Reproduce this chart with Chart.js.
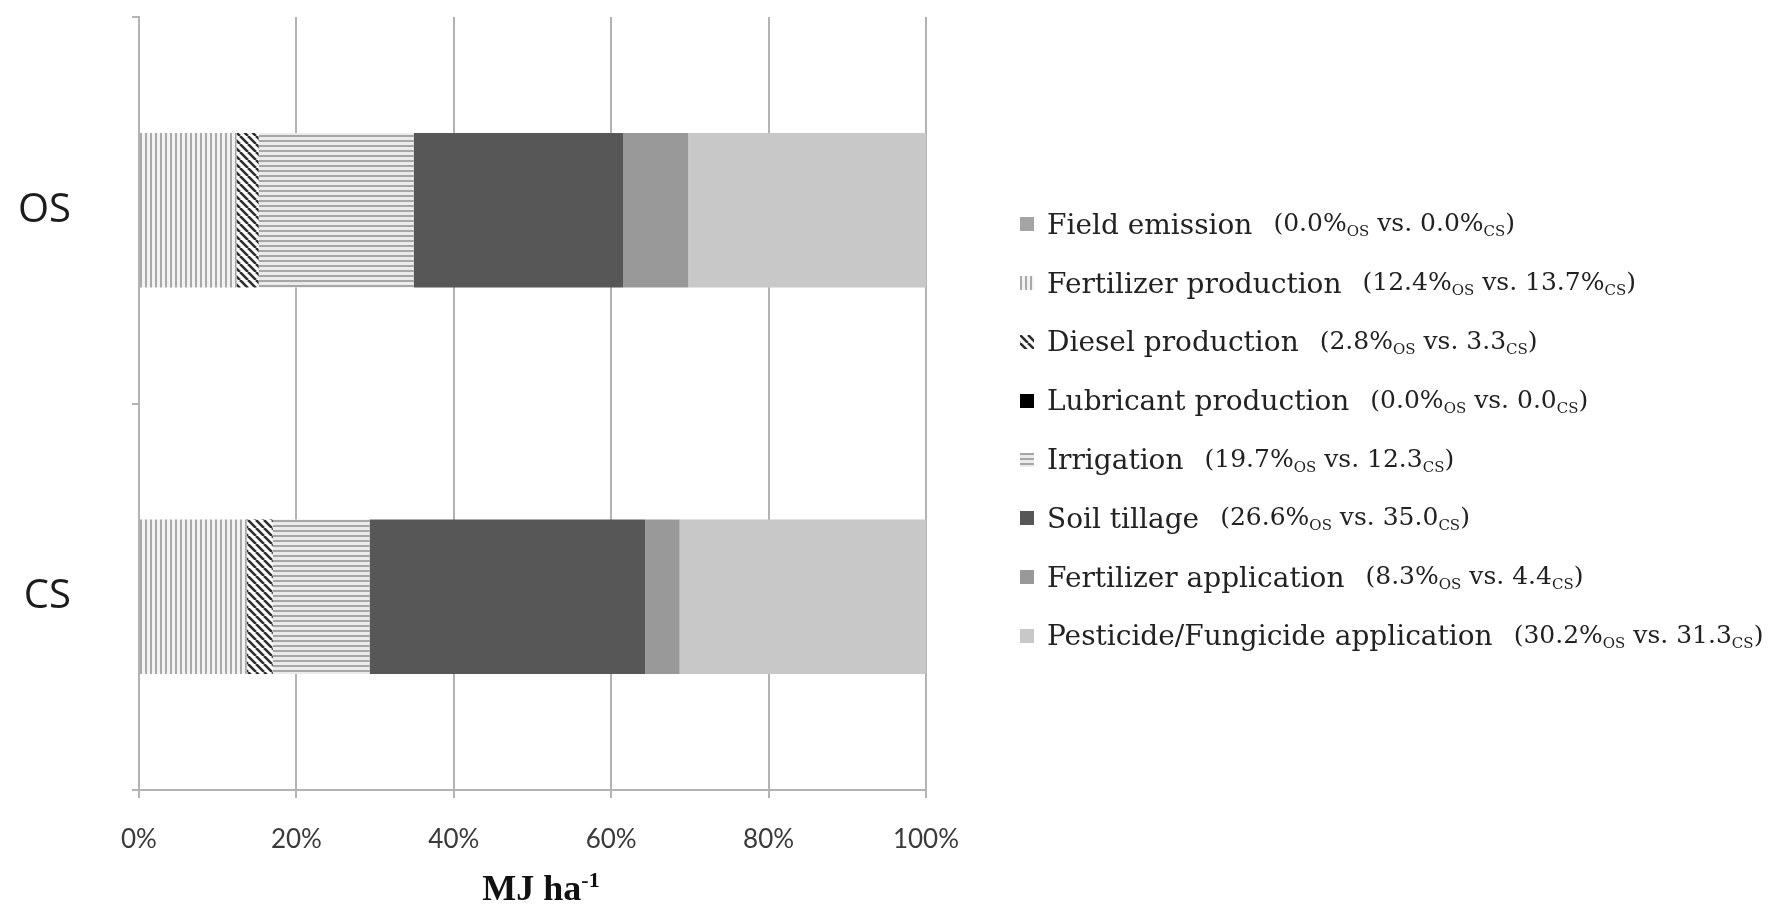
<!DOCTYPE html>
<html>
<head>
<meta charset="utf-8">
<script src="https://cdn.jsdelivr.net/npm/chart.js@4/dist/chart.umd.min.js"></script>
<style>
  html, body { margin: 0; padding: 0; background: #ffffff; }
  #wrap { position: relative; width: 1777px; height: 912px; }
  #chart { position: absolute; left: 0; top: 0; }
  #legend { position: absolute; left: 1020px; top: 195px; font-family: "DejaVu Serif", "Liberation Serif", serif; color: #222222; }
  .row { display: flex; align-items: center; height: 58.8px; white-space: nowrap; }
  .swatch { width: 14px; height: 14px; margin-right: 13px; flex: none; }
  .name { font-size: 28px; }
  .share { font-size: 25px; margin-left: 21px; }
  .share sub { font-size: 15px; vertical-align: -5px; }
  #xtitle { position: absolute; left: 541px; top: 862px; transform: translateX(-50%);
            font-family: "Liberation Serif", serif; font-weight: bold; font-size: 36px; line-height: 36px;
            color: #111111; white-space: nowrap; }
  #xtitle sup { font-size: 22px; vertical-align: 13px; }
</style>
</head>
<body>
<div id="wrap">
  <canvas id="chart" width="1777" height="912"></canvas>
  <div id="legend"></div>
  <div id="xtitle">MJ ha<sup>-1</sup></div>
</div>
<script>
// Farming systems on the category axis
const categories = ['OS', 'CS'];

// Energy input sources, in stacking order
const sources = [
  'Field emission',
  'Fertilizer production',
  'Diesel production',
  'Lubricant production',
  'Irrigation',
  'Soil tillage',
  'Fertilizer application',
  'Pesticide/Fungicide application'
];

// Share of total energy input (%) per source
const osShares = [0.0, 12.4, 2.8, 0.0, 19.7, 26.6, 8.3, 30.2];
const csShares = [0.0, 13.7, 3.3, 0.0, 12.3, 35.0, 4.4, 31.3];

// Whether the CS value carries a % sign in the legend text
const csShowsPercent = [true, true, false, false, false, false, false, false];

// Percentage axis ticks
const xTickValues = [0, 20, 40, 60, 80, 100];

// ---- fills ----
function tile(w, h, paint) {
  const c = document.createElement('canvas');
  c.width = w; c.height = h;
  paint(c.getContext('2d'), w, h);
  return c;
}
const verticalTile = tile(5, 5, (g, w, h) => {
  g.fillStyle = '#f3f3f3'; g.fillRect(0, 0, w, h);
  g.fillStyle = '#a9a9a9'; g.fillRect(0, 0, 2, h);
});
const horizontalTile = tile(5, 5, (g, w, h) => {
  g.fillStyle = '#ebebeb'; g.fillRect(0, 0, w, h);
  g.fillStyle = '#a6a6a6'; g.fillRect(0, 0, w, 2);
});
const diagonalTile = tile(8, 8, (g, w, h) => {
  g.fillStyle = '#ffffff'; g.fillRect(0, 0, w, h);
  g.strokeStyle = '#2e2e2e'; g.lineWidth = 2.6;
  g.beginPath();
  for (const k of [-8, 0, 8]) { g.moveTo(k, 0); g.lineTo(k + 8, 8); }
  g.stroke();
});
const pctx = document.createElement('canvas').getContext('2d');
const fills = [
  { fill: '#a5a5a5', css: '#a5a5a5' },
  { fill: pctx.createPattern(verticalTile, 'repeat'), css: 'url(' + verticalTile.toDataURL() + ')' },
  { fill: pctx.createPattern(diagonalTile, 'repeat'), css: 'url(' + diagonalTile.toDataURL() + ')' },
  { fill: '#000000', css: '#000000' },
  { fill: pctx.createPattern(horizontalTile, 'repeat'), css: 'url(' + horizontalTile.toDataURL() + ')' },
  { fill: '#575757', css: '#575757' },
  { fill: '#999999', css: '#999999' },
  { fill: '#c8c8c8', css: '#c8c8c8' }
];

const datasets = sources.map((name, i) => ({
  label: name,
  data: [osShares[i], csShares[i]],
  backgroundColor: fills[i].fill,
  borderWidth: 0
}));

const gridColor = '#b3b3b3';

new Chart(document.getElementById('chart'), {
  type: 'bar',
  data: { labels: categories, datasets },
  options: {
    indexAxis: 'y',
    responsive: false,
    animation: false,
    events: [],
    layout: { padding: { left: 0, top: 17, right: 851, bottom: 0 } },
    datasets: { bar: { categoryPercentage: 1.0, barPercentage: 0.4 } },
    plugins: { legend: { display: false }, tooltip: { enabled: false } },
    scales: {
      x: {
        stacked: true,
        min: 0, max: 100,
        afterBuildTicks: s => { s.ticks = xTickValues.map(v => ({ value: v })); },
        afterFit: s => { s.height = 122; },
        grid: { color: gridColor, lineWidth: 2, tickLength: 8 },
        border: { color: gridColor, width: 2 },
        ticks: {
          padding: 26,
          color: '#3a3a3a',
          font: { family: 'Lato', size: 26 },
          callback: v => v + '%'
        }
      },
      y: {
        stacked: true,
        offset: true,
        afterFit: s => { s.width = 139; s.paddingTop = 0; s.paddingBottom = 0; },
        grid: { offset: true, drawOnChartArea: false, color: gridColor, lineWidth: 2, tickLength: 7 },
        border: { color: gridColor, width: 2 },
        ticks: {
          padding: 61,
          color: '#1c1c1c',
          font: { family: 'Open Sans', size: 40 }
        }
      }
    }
  }
});

// ---- legend with subscripted system names ----
const legend = document.getElementById('legend');
sources.forEach((name, i) => {
  const row = document.createElement('div');
  row.className = 'row';
  const sw = document.createElement('span');
  sw.className = 'swatch';
  sw.style.background = fills[i].css;
  const nm = document.createElement('span');
  nm.className = 'name';
  nm.textContent = name;
  const sh = document.createElement('span');
  sh.className = 'share';
  sh.innerHTML = '(' + osShares[i].toFixed(1) + '%<sub>OS</sub> vs. ' +
    csShares[i].toFixed(1) + (csShowsPercent[i] ? '%' : '') + '<sub>CS</sub>)';
  row.append(sw, nm, sh);
  legend.appendChild(row);
});
</script>
</body>
</html>
